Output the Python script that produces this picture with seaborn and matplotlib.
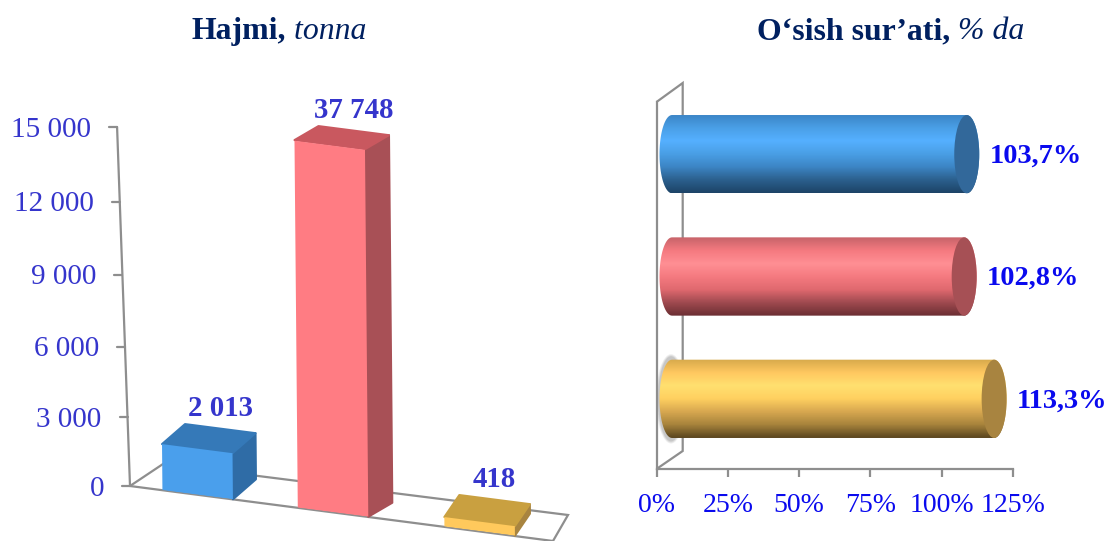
import numpy as np
import seaborn as sns
import matplotlib.pyplot as plt
from matplotlib.colors import LinearSegmentedColormap
from matplotlib.path import Path
from matplotlib.patches import Polygon, Ellipse
from matplotlib.transforms import Affine2D, IdentityTransform

#chart values
categories = ['A', 'B', 'C']
volume = [2013, 37748, 418]
volume_labels = ['2 013', '37 748', '418']
volume_ticks = [0, 3000, 6000, 9000, 12000, 15000]
volume_tick_labels = ['0', '3 000', '6 000', '9 000', '12 000', '15 000']
growth = [103.7, 102.8, 113.3]
growth_labels = ['103,7%', '102,8%', '113,3%']
growth_ticks = [0, 25, 50, 75, 100, 125]
growth_tick_labels = ['0%', '25%', '50%', '75%', '100%', '125%']

W, H = 1108, 541
DARK_BLUE = '#3535cc'
BLUE = '#0a0aee'
NAVY = '#002060'
GREY = '#8e8e8e'

sns.set_theme(style='white')
plt.rcParams['font.family'] = ['Liberation Serif', 'DejaVu Serif']

fig = plt.figure(figsize=(W / 100, H / 100), dpi=100)
pixels = IdentityTransform()

def place(left, top, right, bottom):
    return fig.add_axes([left / W, 1 - bottom / H, (right - left) / W, (bottom - top) / H])

def px(x, y):
    #picture coords (y down) to display coords
    return (x, H - y)

#left chart, sheared bars
ax = place(130, 127, 553, 486)
front = ['#4a9fec', '#ff7c83', '#ffc95c']
side = ['#2f6ca6', '#a85056', '#a88440']
top = ['#3579b8', '#c9585f', '#c9a040']
depth = [(23, 20), (24, 14), (15, 22)]
nudge = [0, -0.04, 0]

sns.barplot(x=categories, y=volume, hue=categories, palette=front, width=0.5, saturation=1, linewidth=0, legend=False, ax=ax)
bars = list(ax.patches)
ax.set_xlim(-0.48, 2.52)
ax.set_yscale('function', functions=(
    lambda v: (v / 15000) * (1 + 0.05 * (v / 15000 - 1)),
    lambda f: 15000 * (-0.95 + np.sqrt(np.maximum(0.9025 + 0.2 * f, 0))) / 0.1))
ax.set_ylim(0, 15000)
ax.axis('off')

x0, y0 = px(130, 486)

def skew(lean):
    return Affine2D().translate(-x0, -y0) + Affine2D.from_values(1, -0.129, lean, 1, 0, 0) + Affine2D().translate(x0, y0)

#the axis leans more than the bars do
trans = ax.transData + skew(-0.036)
bar_skew = skew(-0.009)
bar_trans = ax.transData + bar_skew

def pt(x, v, tr=trans):
    return np.array(tr.transform((x, v)))

#floor
floor = [px(130, 486), px(163, 464), px(568, 515), px(553, 541)]
ax.add_patch(Polygon(floor, closed=False, transform=pixels, fill=False, edgecolor=GREY, lw=1.6, clip_on=False, zorder=0))
ax.plot(*zip(px(130, 486), px(553, 541)), transform=pixels, color=GREY, lw=1.6, clip_on=False, zorder=0)

#y axis
ax.plot(*zip(pt(-0.48, 0), pt(-0.48, 15000)), transform=pixels, color=GREY, lw=1.6, clip_on=False, zorder=0)
for tick, label in zip(volume_ticks, volume_tick_labels):
    p = pt(-0.48, tick)
    ax.plot([p[0] - 8, p[0]], [p[1], p[1]], transform=pixels, color=GREY, lw=1.6, clip_on=False, zorder=0)
    ax.text(p[0] - 26, p[1] - 2.5, label, transform=pixels, color=DARK_BLUE, fontsize=21, ha='right', va='center', clip_on=False)

#bars get the shear, the tall one is cut a little above the axis top
clip = Path([(0, 0), (1, 0), (1, 1.022), (0, 1.022), (0, 0)])
for i, bar in enumerate(bars):
    bar.set_x(bar.get_x() + nudge[i])
    bar.set_transform(bar_trans)
    bar.set_clip_box(None)
    bar.set_clip_path(clip, ax.transAxes + bar_skew)
    bar.set_zorder(3)
    xl, w = bar.get_x(), bar.get_width()
    v = min(bar.get_height(), 15340)
    d = np.array(depth[i])
    a, b, c, e = [pt(x, y, bar_trans) for x, y in [(xl, 0), (xl + w, 0), (xl + w, v), (xl, v)]]
    ax.add_patch(Polygon([b, c, c + d, b + d], transform=pixels, facecolor=side[i], edgecolor=side[i], lw=1.5, joinstyle='round', clip_on=False, zorder=2))
    ax.add_patch(Polygon([e, c, c + d, e + d], transform=pixels, facecolor=top[i], edgecolor=top[i], lw=1.5, joinstyle='round', clip_on=False, zorder=2))
    m = (e + c) / 2 + d
    ax.text(m[0], m[1] + 20, volume_labels[i], transform=pixels, color=DARK_BLUE, fontsize=20.8, fontweight='bold', ha='center', va='center', clip_on=False, zorder=5)

#right chart, cylinders
ax2 = place(656.5, 102, 1013, 469)
ramps = [
    ['#3b85c6', '#4a9fe6', '#55b0ff', '#4a9fe6', '#3d86c6', '#2c618f', '#1d4468'],
    ['#c8646a', '#f57a80', '#ff8f94', '#f57a80', '#e0696f', '#a04a50', '#6c2f33'],
    ['#d8aa4c', '#ffc860', '#ffe070', '#ffd060', '#d8a850', '#a8843c', '#5c4720'],
]
caps = ['#32689a', '#a65055', '#a88440']

sns.barplot(x=growth, y=categories, hue=categories, palette=caps, width=0.64, orient='h', saturation=1, legend=False, ax=ax2)
bars2 = list(ax2.patches)
ax2.set_xlim(0, 125)
ax2.set_ylim(2.5, -0.5)
ax2.set_xticks(growth_ticks)
ax2.set_xticklabels(growth_tick_labels, color=BLUE, fontsize=20)
ax2.set_yticks([])
ax2.set_ylabel('')
ax2.patch.set_alpha(0)
sns.despine(ax=ax2, top=True, right=True)
for name in ['left', 'bottom']:
    ax2.spines[name].set_color(GREY)
    ax2.spines[name].set_linewidth(1.6)
ax2.tick_params(axis='x', bottom=True, length=6, width=1.6, color=GREY, pad=11)

#back wall
wall = [px(656.5, 102), px(682.7, 83), px(682.7, 451), px(656.5, 469)]
ax2.add_patch(Polygon(wall, closed=False, transform=pixels, fill=False, edgecolor=GREY, lw=1.6, clip_on=False, zorder=0))

tr2 = ax2.transData
rx = 12.5
theta = np.linspace(0, np.pi, 40)
for i, bar in enumerate(bars2):
    bar.set_visible(False)
    (xa, ya), (xb, yb) = tr2.transform([(0, bar.get_y()), (bar.get_width(), bar.get_y() + bar.get_height())])
    #cylinder stands in the middle of the depth
    xa, xb = xa + 15.5, xb + 14.5
    ya, yb = ya + 9, yb + 9
    cy, ry = (ya + yb) / 2, abs(ya - yb) / 2
    if i == 2:
        for grow, alpha in [(2.5, 0.12), (1.5, 0.15), (0.5, 0.2)]:
            ax2.add_patch(Ellipse((xa - 1, cy), 2 * rx + 2 * grow, 2 * ry + 2 * grow + 6, transform=pixels, facecolor='#777777', edgecolor='none', alpha=alpha, clip_on=False, zorder=1))
    left_arc = np.c_[xa - rx * np.sin(theta), cy + ry * np.cos(theta)]
    right_arc = np.c_[xb + rx * np.sin(theta), cy - ry * np.cos(theta)]
    verts = np.vstack([left_arc, right_arc, left_arc[:1]])
    outline = Path(verts)
    cmap = LinearSegmentedColormap.from_list('ramp%d' % i, ramps[i])
    img = ax2.imshow(np.linspace(0, 1, 80)[:, None], cmap=cmap, aspect='auto', extent=(xa - rx - 1, xb + rx + 1, cy - ry, cy + ry), transform=pixels, zorder=2)
    img.set_clip_path(outline, pixels)
    ax2.add_patch(Ellipse((xb, cy), 2 * rx, 2 * ry, transform=pixels, facecolor=caps[i], edgecolor='none', clip_on=False, zorder=3))
    ax2.text(xb + rx + 10, cy - 2, growth_labels[i], transform=pixels, color=BLUE, fontsize=20.4, fontweight='bold', ha='left', va='center', clip_on=False, zorder=5)

ax2.set_xlim(0, 125)
ax2.set_ylim(2.5, -0.5)
ax2.set_aspect('auto')

def title(x, bold, italic):
    first = fig.text(x, H - 46, bold, transform=pixels, color=NAVY, fontsize=22.9, fontweight='bold', va='bottom')
    ax2.annotate(italic, xy=(1, 0), xycoords=first, color=NAVY, fontsize=22.9, fontstyle='italic', va='bottom', annotation_clip=False)

title(191, 'Hajmi,', ' tonna')
title(757, 'O‘sish sur’ati,', ' % da')

fig.savefig('out.png', dpi=100)
